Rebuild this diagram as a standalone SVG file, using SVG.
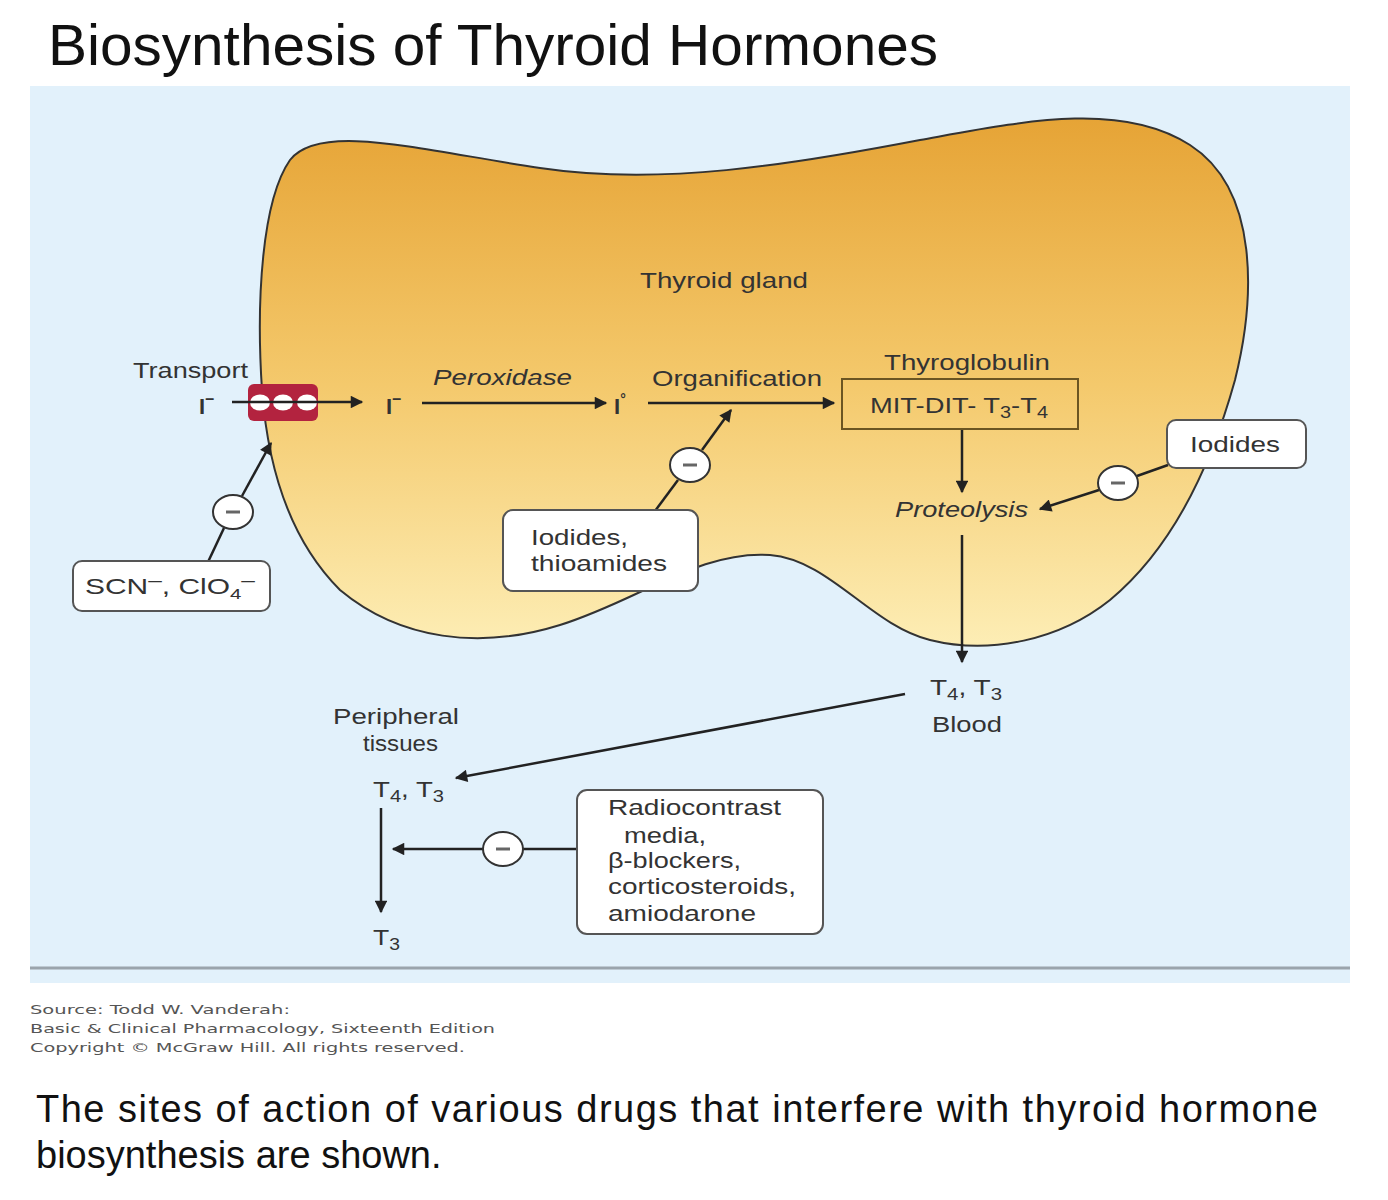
<svg xmlns="http://www.w3.org/2000/svg" width="1388" height="1200" viewBox="0 0 1388 1200">
<defs>
<style>
.title{font-family:"Liberation Sans",Arial,sans-serif;font-size:58px;fill:#111}
.cap{font-family:"Liberation Sans",Arial,sans-serif;font-size:38px;fill:#111}
.src{font-family:"DejaVu Sans",Verdana,sans-serif;font-size:13px;fill:#555}
.lbl{font-family:"Liberation Sans",Arial,sans-serif;font-size:22px;fill:#333}
.it{font-style:italic}
.box{fill:#fff;stroke:#555;stroke-width:2}
.con{stroke:#222;stroke-width:2.5;fill:none}
.arr{marker-end:url(#ah)}
.inh ellipse{fill:#fff;stroke:#333;stroke-width:2}
.inh line{stroke:#666;stroke-width:3}
</style>
<marker id="ah" viewBox="0 0 10 10" refX="9" refY="5" markerWidth="6" markerHeight="5" orient="auto" markerUnits="strokeWidth">
<path d="M0,0 L10,5 L0,10 Z" fill="#222"/>
</marker>
<linearGradient id="gl" gradientUnits="userSpaceOnUse" x1="0" y1="120" x2="0" y2="650">
<stop offset="0" stop-color="#e6a436"/>
<stop offset="0.5" stop-color="#f4c96c"/>
<stop offset="1" stop-color="#fdeeb6"/>
</linearGradient>
</defs>
<rect width="1388" height="1200" fill="#fff"/>
<text class="title" x="48" y="65" textLength="890" lengthAdjust="spacingAndGlyphs">Biosynthesis of Thyroid Hormones</text>
<rect x="30" y="86" width="1320" height="897" fill="#e2f1fb"/>
<line x1="30" y1="968" x2="1350" y2="968" stroke="#9aa4ac" stroke-width="3"/>

<g id="gland">
<path d="M 290 160 C 320 122, 420 150, 540 168 C 660 186, 790 165, 920 140 C 1020 122, 1120 100, 1190 145 C 1260 190, 1255 300, 1235 380 C 1210 470, 1170 550, 1110 600 C 1060 640, 990 655, 930 640 C 870 625, 830 560, 770 555 C 700 550, 640 600, 560 625 C 480 650, 400 640, 340 590 C 290 540, 268 470, 262 390 C 256 300, 262 200, 290 160 Z" fill="url(#gl)" stroke="#333" stroke-width="2"/>
<text class="lbl" x="640" y="288" textLength="168" lengthAdjust="spacingAndGlyphs">Thyroid gland</text>
</g>

<g id="transporter">
<rect x="248" y="384" width="70" height="37" rx="6" fill="#b3233f"/>
<ellipse cx="260" cy="402.5" rx="10" ry="8" fill="#fff"/>
<ellipse cx="283" cy="402.5" rx="10" ry="8" fill="#fff"/>
<ellipse cx="307" cy="402.5" rx="10" ry="8" fill="#fff"/>
</g>

<g id="connectors">
<line class="con arr" x1="232" y1="402" x2="362" y2="402"/>
<line class="con arr" x1="422" y1="403" x2="606" y2="403"/>
<line class="con arr" x1="648" y1="403" x2="834" y2="403"/>
<line class="con arr" x1="962" y1="429" x2="962" y2="492"/>
<line class="con arr" x1="962" y1="535" x2="962" y2="662"/>
<line class="con arr" x1="905" y1="694" x2="456" y2="778"/>
<line class="con arr" x1="381" y1="808" x2="381" y2="912"/>
<line class="con" x1="208" y1="562" x2="224" y2="528"/>
<line class="con arr" x1="242" y1="496" x2="271" y2="443"/>
<line class="con" x1="655" y1="511" x2="678" y2="480"/>
<line class="con arr" x1="702" y1="450" x2="731" y2="410"/>
<line class="con" x1="1168" y1="465" x2="1137" y2="476"/>
<line class="con arr" x1="1099" y1="490" x2="1040" y2="509"/>
<line class="con" x1="576" y1="849" x2="523" y2="849"/>
<line class="con arr" x1="483" y1="849" x2="393" y2="849"/>
</g>

<g id="inh1" class="inh"><ellipse cx="233" cy="512" rx="20" ry="17"/><line x1="226" y1="512" x2="240" y2="512"/></g>
<g id="inh2" class="inh"><ellipse cx="690" cy="465" rx="20" ry="17"/><line x1="683" y1="465" x2="697" y2="465"/></g>
<g id="inh3" class="inh"><ellipse cx="1118" cy="483" rx="20" ry="17"/><line x1="1111" y1="483" x2="1125" y2="483"/></g>
<g id="inh4" class="inh"><ellipse cx="503" cy="849" rx="20" ry="17"/><line x1="496" y1="849" x2="510" y2="849"/></g>

<g id="transport-label">
<text class="lbl" x="133" y="378" textLength="115" lengthAdjust="spacingAndGlyphs">Transport</text>
<text class="lbl" x="199" y="414" font-weight="bold">I<tspan dy="-10" font-size="16">–</tspan></text>
</g>
<g id="iodide">
<text class="lbl" x="386" y="414" font-weight="bold">I<tspan dy="-10" font-size="16">–</tspan></text>
</g>
<g id="peroxidase">
<text class="lbl it" x="433" y="385" textLength="139" lengthAdjust="spacingAndGlyphs">Peroxidase</text>
</g>
<g id="iodine">
<text class="lbl" x="614" y="414" font-weight="bold">I<tspan dy="-10" font-size="14">°</tspan></text>
</g>
<g id="organification">
<text class="lbl" x="652" y="386" textLength="170" lengthAdjust="spacingAndGlyphs">Organification</text>
</g>
<g id="thyroglobulin">
<text class="lbl" x="884" y="370" textLength="166" lengthAdjust="spacingAndGlyphs">Thyroglobulin</text>
<rect x="842" y="379" width="236" height="50" fill="none" stroke="#6b5522" stroke-width="2"/>
<text class="lbl" x="870" y="413" textLength="178" lengthAdjust="spacingAndGlyphs">MIT-DIT- T<tspan dy="5" font-size="16">3</tspan><tspan dy="-5">-T</tspan><tspan dy="5" font-size="16">4</tspan></text>
</g>
<g id="proteolysis">
<text class="lbl it" x="895" y="517" textLength="133" lengthAdjust="spacingAndGlyphs">Proteolysis</text>
</g>
<g id="iodides-box">
<rect class="box" x="1167" y="420" width="139" height="48" rx="9"/>
<text class="lbl" x="1190" y="452" textLength="90" lengthAdjust="spacingAndGlyphs">Iodides</text>
</g>
<g id="scn-box">
<rect class="box" x="73" y="561" width="197" height="50" rx="9"/>
<text class="lbl" x="85" y="594" textLength="170" lengthAdjust="spacingAndGlyphs">SCN<tspan dy="-8" font-size="18">–</tspan><tspan dy="8">, ClO</tspan><tspan dy="5" font-size="15">4</tspan><tspan dy="-13" font-size="18">–</tspan></text>
</g>
<g id="thioamides-box">
<rect class="box" x="503" y="510" width="195" height="81" rx="10"/>
<text class="lbl" x="531" y="545" textLength="97" lengthAdjust="spacingAndGlyphs">Iodides,</text>
<text class="lbl" x="531" y="571" textLength="136" lengthAdjust="spacingAndGlyphs">thioamides</text>
</g>
<g id="blood">
<text class="lbl" x="930" y="695" textLength="72" lengthAdjust="spacingAndGlyphs">T<tspan dy="5" font-size="16">4</tspan><tspan dy="-5">, T</tspan><tspan dy="5" font-size="16">3</tspan></text>
<text class="lbl" x="932" y="732" textLength="70" lengthAdjust="spacingAndGlyphs">Blood</text>
</g>
<g id="peripheral">
<text class="lbl" x="333" y="724" textLength="126" lengthAdjust="spacingAndGlyphs">Peripheral</text>
<text class="lbl" x="363" y="751" textLength="75" lengthAdjust="spacingAndGlyphs">tissues</text>
<text class="lbl" x="373" y="797" textLength="71" lengthAdjust="spacingAndGlyphs">T<tspan dy="5" font-size="16">4</tspan><tspan dy="-5">, T</tspan><tspan dy="5" font-size="16">3</tspan></text>
</g>
<g id="t3">
<text class="lbl" x="373" y="945" textLength="27" lengthAdjust="spacingAndGlyphs">T<tspan dy="5" font-size="16">3</tspan></text>
</g>
<g id="radiocontrast-box">
<rect class="box" x="577" y="790" width="246" height="144" rx="10"/>
<text class="lbl" x="608" y="815" textLength="173" lengthAdjust="spacingAndGlyphs">Radiocontrast</text>
<text class="lbl" x="624" y="843" textLength="82" lengthAdjust="spacingAndGlyphs">media,</text>
<text class="lbl" x="608" y="868" textLength="133" lengthAdjust="spacingAndGlyphs">β-blockers,</text>
<text class="lbl" x="608" y="894" textLength="188" lengthAdjust="spacingAndGlyphs">corticosteroids,</text>
<text class="lbl" x="608" y="921" textLength="148" lengthAdjust="spacingAndGlyphs">amiodarone</text>
</g>

<g id="source">
<text class="src" x="30" y="1014" textLength="260" lengthAdjust="spacingAndGlyphs">Source: Todd W. Vanderah:</text>
<text class="src" x="30" y="1033" textLength="465" lengthAdjust="spacingAndGlyphs">Basic &amp; Clinical Pharmacology, Sixteenth Edition</text>
<text class="src" x="30" y="1052" textLength="435" lengthAdjust="spacingAndGlyphs">Copyright © McGraw Hill. All rights reserved.</text>
</g>
<g id="caption">
<text class="cap" x="36" y="1122" textLength="1282" lengthAdjust="spacing">The sites of action of various drugs that interfere with thyroid hormone</text>
<text class="cap" x="36" y="1168">biosynthesis are shown.</text>
</g>
</svg>
